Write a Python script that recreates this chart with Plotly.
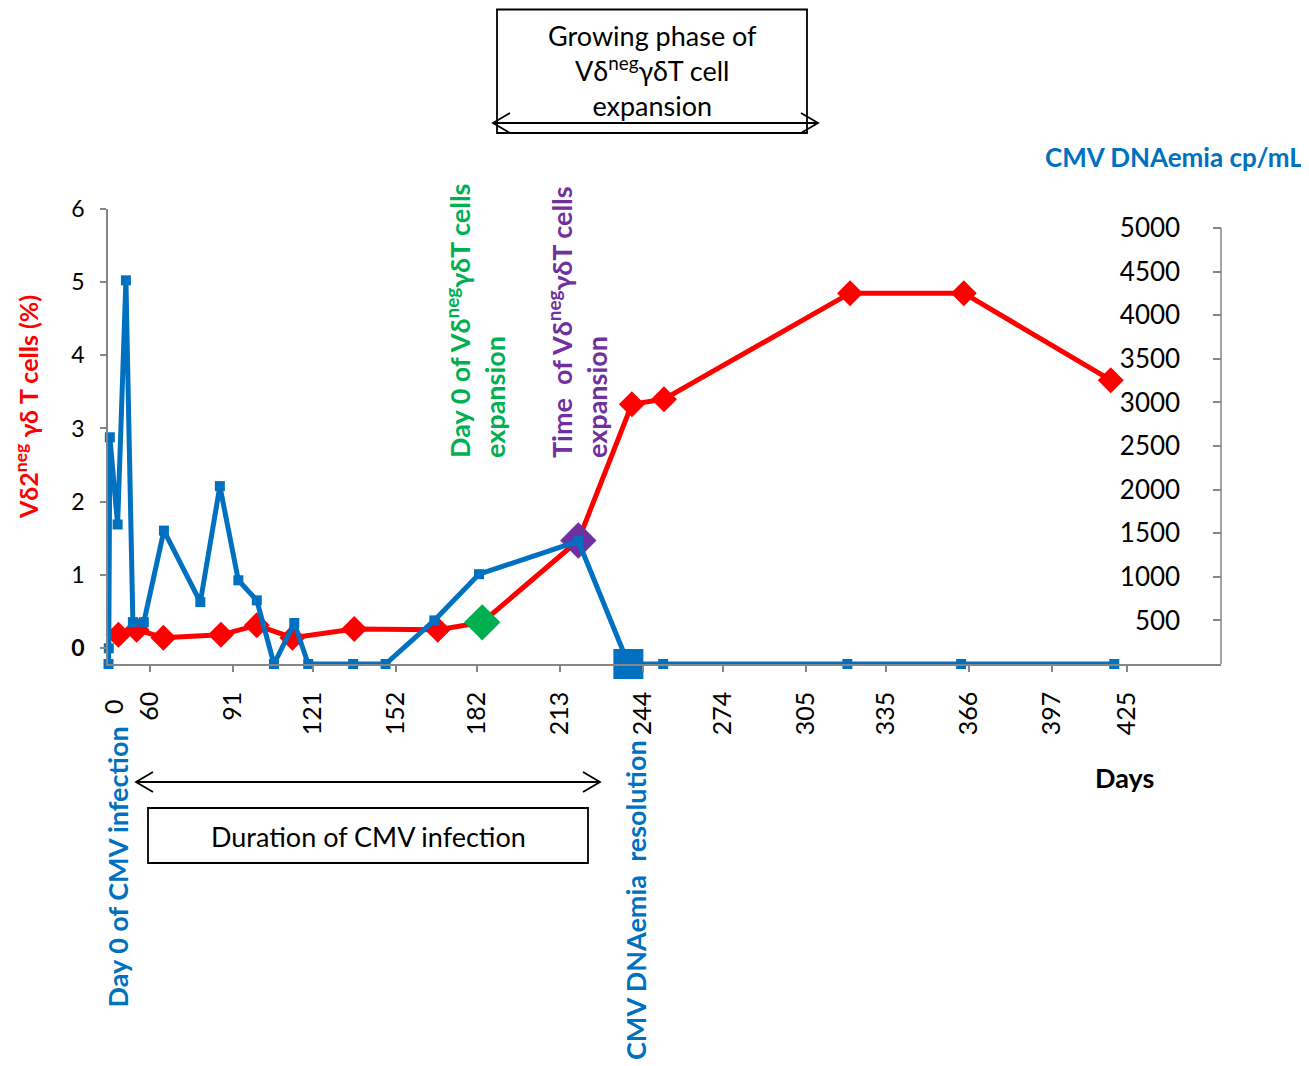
import plotly.graph_objects as go

# ---------------- data ----------------
tick_days = [60, 91, 121, 152, 182, 213, 244, 274, 305, 335, 366, 397, 425]
tick_labels = [str(d) for d in tick_days]

# Vd2neg gd T cells (%), left axis
red_days = [48.2, 55.0, 65.0, 86.5, 99.9, 113.2, 136.3, 167.5, 184.1, 220.0, 240.0, 252.0, 321.5, 364.0, 418.9]
red_pct = [0.18, 0.25, 0.14, 0.18, 0.31, 0.14, 0.26, 0.25, 0.35, 1.47, 3.33, 3.40, 4.85, 4.85, 3.66]

# CMV DNAemia cp/mL, right axis
cmv_days = [44.5, 44.6, 45.0, 47.9, 51.0, 53.6, 57.7, 65.2, 78.8, 86.1, 93.0, 99.9, 106.3, 113.9,
            119.1, 135.9, 148.0, 166.2, 182.9, 220.0, 238.7, 251.7, 320.5, 363.0, 420.2]
cmv_copies = [0, 180, 2600, 1600, 4400, 480, 480, 1530, 710, 2040, 960, 730, 0, 470,
              0, 0, 0, 500, 1030, 1410, 0, 0, 0, 0, 0]

# highlighted events
resolution_day = [238.7]
resolution_copies = [0]
day0_expansion_day = [184.1]
day0_expansion_pct = [0.35]
time_expansion_day = [220.0]
time_expansion_pct = [1.47]

left_ticks = [0, 1, 2, 3, 4, 5, 6]
left_ticktext = ["<b>0</b>", "1", "2", "3", "4", "5", "6"]
right_ticks = [500, 1000, 1500, 2000, 2500, 3000, 3500, 4000, 4500, 5000]

# ---------------- layout geometry (reference pixel coordinates) ----------------
OFF = 8  # page body margin of the browser
FIG_W, FIG_H = 1309 - OFF, 1066 - OFF
L, R, T, B = 108, 1221, 209, 664
PW, PH = R - L, B - T


def fx(x):
    return (x - L) / PW


def fy(y):
    return (B - y) / PH


FONT = "Lato, 'Open Sans', sans-serif"
BLUE = "#0070C0"
RED = "#FF0000"
GREEN = "#00B050"
PURPLE = "#7030A0"
AXC = "#868686"

fig = go.Figure()

fig.add_trace(go.Scatter(
    x=red_days, y=red_pct, mode="lines+markers", xaxis="x", yaxis="y",
    line=dict(color=RED, width=5),
    marker=dict(symbol="diamond", size=20, color=RED),
    showlegend=False, cliponaxis=False))

fig.add_trace(go.Scatter(
    x=cmv_days, y=cmv_copies, mode="lines+markers", xaxis="x2", yaxis="y2",
    line=dict(color=BLUE, width=5),
    marker=dict(symbol="square", size=10, color=BLUE),
    showlegend=False, cliponaxis=False))

fig.add_trace(go.Scatter(
    x=resolution_day, y=resolution_copies, mode="markers", xaxis="x2", yaxis="y2",
    marker=dict(symbol="square", size=30, color=BLUE),
    showlegend=False, cliponaxis=False))

fig.add_trace(go.Scatter(
    x=day0_expansion_day, y=day0_expansion_pct, mode="markers", xaxis="x", yaxis="y",
    marker=dict(symbol="diamond", size=28, color=GREEN),
    showlegend=False, cliponaxis=False))

fig.add_trace(go.Scatter(
    x=time_expansion_day, y=time_expansion_pct, mode="markers", xaxis="x", yaxis="y",
    marker=dict(symbol="diamond", size=28, color=PURPLE),
    showlegend=False, cliponaxis=False))

x_lo = 60 + (L - 150) / 2.677
x_hi = 60 + (R - 150) / 2.677

fig.update_layout(
    width=FIG_W, height=FIG_H,
    margin=dict(l=L - OFF, r=FIG_W - (R - OFF), t=T - OFF, b=FIG_H - (B - OFF), pad=0),
    paper_bgcolor="white", plot_bgcolor="white",
    font=dict(family=FONT, color="black"),
    showlegend=False,
    xaxis=dict(
        range=[x_lo, x_hi], tickmode="array", tickvals=tick_days, ticktext=tick_labels,
        tickangle=-90, ticks="outside", ticklen=6, tickcolor=AXC, tickwidth=1.5,
        showline=True, linecolor=AXC, linewidth=1.5, showgrid=False, zeroline=False,
        tickfont=dict(family=FONT, size=25, color="black"), automargin=False,
        ticklabelstandoff=10),
    xaxis2=dict(
        range=[x_lo, x_hi], overlaying="x", anchor="y2", visible=False,
        showgrid=False, zeroline=False, automargin=False),
    yaxis=dict(
        range=[-0.219, 6.0], tickmode="array", tickvals=left_ticks, ticktext=left_ticktext,
        ticks="outside", ticklen=6, tickcolor=AXC, tickwidth=1.5,
        showline=True, linecolor=AXC, linewidth=1.5, showgrid=False, zeroline=False,
        tickfont=dict(family=FONT, size=23, color="black"), automargin=False,
        ticklabelstandoff=11),
    yaxis2=dict(
        overlaying="y", side="right", anchor="x2", range=[0, 5218], tickmode="array",
        tickvals=right_ticks,
        ticks="inside", ticklen=8, tickcolor=AXC, tickwidth=1.5, ticklabelposition="inside",
        showline=False, showgrid=False, zeroline=False,
        tickfont=dict(family=FONT, size=26, color="black"), automargin=False,
        ticklabelstandoff=35),
)

shapes = []
# right axis line
shapes.append(dict(type="line", xref="paper", yref="y2", x0=1, x1=1, y0=0, y1=5000,
                   line=dict(color=AXC, width=1.5)))


def double_arrow(x0, x1, y, head_dx=17, head_dy=10, width=1.8):
    out = [dict(type="line", xref="paper", yref="paper", x0=fx(x0), x1=fx(x1), y0=fy(y), y1=fy(y),
                line=dict(color="black", width=width))]
    for tip, sgn in ((x0, 1), (x1, -1)):
        path = "M {:.5f},{:.5f} L {:.5f},{:.5f} L {:.5f},{:.5f}".format(
            fx(tip + sgn * head_dx), fy(y - head_dy), fx(tip), fy(y), fx(tip + sgn * head_dx), fy(y + head_dy))
        out.append(dict(type="path", xref="paper", yref="paper", path=path,
                        line=dict(color="black", width=width)))
    return out


# top box + arrow
shapes.append(dict(type="rect", xref="paper", yref="paper", x0=fx(497), x1=fx(807), y0=fy(133), y1=fy(9.5),
                   line=dict(color="black", width=1.8)))
shapes += double_arrow(493, 818, 123)
# bottom box + arrow
shapes.append(dict(type="rect", xref="paper", yref="paper", x0=fx(148), x1=fx(588), y0=fy(863), y1=fy(808),
                   line=dict(color="black", width=1.8)))
shapes += double_arrow(136, 600, 782)
fig.update_layout(shapes=shapes)

ann = []


def add_text(text, x, y, size, color="black", bold=False, angle=0, xanchor="center", yanchor="middle", align="center"):
    ann.append(dict(text=("<b>" + text + "</b>") if bold else text, x=fx(x), y=fy(y),
                    xref="paper", yref="paper", showarrow=False, textangle=angle,
                    xanchor=xanchor, yanchor=yanchor, align=align,
                    font=dict(family=FONT, size=size, color=color)))


add_text("Vδ2<sup>neg</sup> γδ T cells (%)", 26, 407, 25, RED, bold=True, angle=-90)
add_text("CMV DNAemia cp/mL", 1174, 157, 26, BLUE, bold=True)
add_text("Days", 1124, 777, 27, "black", bold=True)
add_text("0", 113, 707, 25, "black", angle=-90)
add_text("Day 0 of Vδ<sup>neg</sup>γδT cells<br>expansion", 475, 460, 27, GREEN, bold=True,
         angle=-90, yanchor="bottom", align="left")
add_text("Time\u00a0 of Vδ<sup>neg</sup>γδT cells<br>expansion", 577, 460, 27, PURPLE, bold=True,
         angle=-90, yanchor="bottom", align="left")
add_text("Day 0 of CMV infection", 117, 1010, 27, BLUE, bold=True, angle=-90, yanchor="bottom")
add_text("CMV DNAemia\u00a0 resolution", 635, 1062, 27, BLUE, bold=True, angle=-90, yanchor="bottom")
add_text("Growing phase of<br>Vδ<sup>neg</sup>γδT cell<br>expansion", 652, 71, 27, "black")
add_text("Duration of CMV infection", 368, 836, 27, "black")

fig.update_layout(annotations=ann)

fig.write_html("out.html")
